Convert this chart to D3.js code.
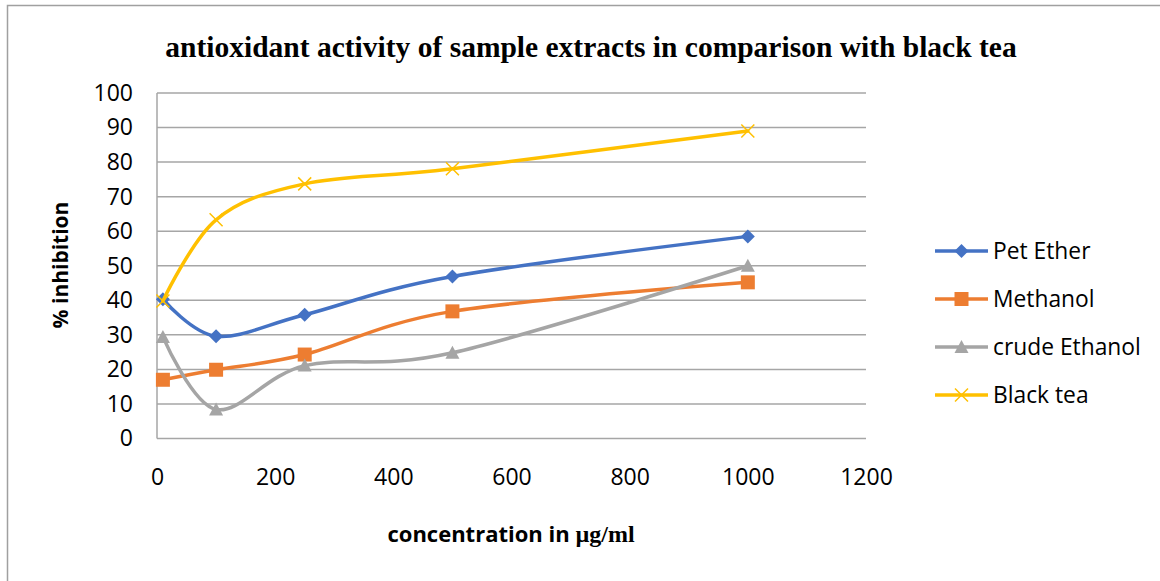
<!DOCTYPE html>
<html>
<head>
<meta charset="utf-8">
<script src="https://cdnjs.cloudflare.com/ajax/libs/d3/7.8.5/d3.min.js"></script>
<style>
  body { margin: 0; background: #fff; }
  .tick text { font-family: "Open Sans", sans-serif; font-size: 23px; fill: #000; }
  .grid line { stroke: #a6a6a6; stroke-width: 1.5; }
</style>
</head>
<body>
<script>
// chart data
var concentrations = [10, 100, 250, 500, 1000];
var petEther     = [40.3, 29.6, 35.8, 46.9, 58.5];
var methanol     = [17.0, 19.9, 24.3, 36.8, 45.2];
var crudeEthanol = [29.4, 8.4, 21.1, 24.8, 50.0];
var blackTea     = [39.8, 63.3, 73.7, 78.1, 89.0];
var seriesNames  = ["Pet Ether", "Methanol", "crude Ethanol", "Black tea"];
var xTicks = [0, 200, 400, 600, 800, 1000, 1200];
var yTicks = [0, 10, 20, 30, 40, 50, 60, 70, 80, 90, 100];

var series = [
  {name: seriesNames[0], values: petEther,     color: "#4472C4", marker: "diamond"},
  {name: seriesNames[1], values: methanol,     color: "#ED7D31", marker: "square"},
  {name: seriesNames[2], values: crudeEthanol, color: "#A5A5A5", marker: "triangle"},
  {name: seriesNames[3], values: blackTea,     color: "#FFC000", marker: "cross"}
];

var W = 1160, H = 581;
var margin = {top: 93, left: 157, right: 294, bottom: 142.5};
var w = W - margin.left - margin.right,
    h = H - margin.top - margin.bottom;

var svg = d3.select("body").append("svg")
    .attr("width", W).attr("height", H);

// outer chart border
svg.append("rect")
    .attr("x", 7.5).attr("y", 5.5)
    .attr("width", 1170).attr("height", 600)
    .attr("fill", "none").attr("stroke", "#a0a0a0").attr("stroke-width", 1.5);

var g = svg.append("g")
    .attr("transform", "translate(" + margin.left + "," + margin.top + ")");

var xScale = d3.scaleLinear().domain([0, 1200]).range([0, w]);
var yScale = d3.scaleLinear().domain([0, 100]).range([h, 0]);

// gridlines
g.append("g").attr("class", "grid")
  .selectAll("line").data(yTicks).enter().append("line")
    .attr("x1", 0).attr("x2", w)
    .attr("y1", function(d) { return yScale(d); })
    .attr("y2", function(d) { return yScale(d); });

g.append("line")
    .attr("x1", 0).attr("x2", 0).attr("y1", 0).attr("y2", h)
    .attr("stroke", "#a6a6a6").attr("stroke-width", 1.5);

// axes (labels only)
var yAxis = d3.axisLeft(yScale).tickValues(yTicks).tickSize(0).tickPadding(24);
var xAxis = d3.axisBottom(xScale).tickValues(xTicks).tickSize(0).tickPadding(30)
    .tickFormat(d3.format("d"));

g.append("g").call(yAxis).call(function(s) { s.select(".domain").remove(); });
g.append("g").attr("transform", "translate(0," + h + ")")
    .call(xAxis).call(function(s) { s.select(".domain").remove(); });

// markers
function markerPath(type) {
  if (type == "diamond") return "M0,-7L7,0L0,7L-7,0Z";
  if (type == "square") return "M-7,-7H7V7H-7Z";
  if (type == "triangle") return "M0,-7L7,6H-7Z";
  return "M-6.5,-6.5L6.5,6.5M-6.5,6.5L6.5,-6.5";
}
function drawMarker(sel, s) {
  sel.attr("d", markerPath(s.marker))
    .attr("fill", s.marker == "cross" ? "none" : s.color)
    .attr("stroke", s.color)
    .attr("stroke-width", s.marker == "cross" ? 1.5 : 0);
}

var line = d3.line()
    .x(function(d, i) { return xScale(concentrations[i]); })
    .y(function(d) { return yScale(d); })
    .curve(d3.curveCardinal.tension(0));

series.forEach(function(s) {
  g.append("path")
      .attr("d", line(s.values))
      .attr("fill", "none")
      .attr("stroke", s.color)
      .attr("stroke-width", 3.5)
      .attr("stroke-linecap", "round");
  g.selectAll(null).data(s.values).enter().append("path")
      .attr("transform", function(d, i) {
        return "translate(" + xScale(concentrations[i]) + "," + yScale(d) + ")";
      })
      .call(drawMarker, s);
});

// legend
var legend = svg.append("g").attr("transform", "translate(935,251)");
series.forEach(function(s, i) {
  var row = legend.append("g").attr("transform", "translate(0," + (i * 48) + ")");
  row.append("line").attr("x1", 0).attr("x2", 53)
      .attr("stroke", s.color).attr("stroke-width", 3.5);
  row.append("path").attr("transform", "translate(26.5,0)").call(drawMarker, s);
  row.append("text").attr("x", 58).attr("y", 8)
      .style("font-family", "'Open Sans', sans-serif").style("font-size", "22.8px")
      .text(s.name);
});

// title
svg.append("text")
    .attr("x", 591).attr("y", 57)
    .attr("text-anchor", "middle")
    .style("font-family", "'Liberation Serif', serif")
    .style("font-weight", "bold").style("font-size", "29.5px")
    .text("antioxidant activity of sample extracts in comparison with black tea");

// axis titles
svg.append("text")
    .attr("transform", "translate(68,265) rotate(-90)")
    .attr("text-anchor", "middle")
    .style("font-family", "'Open Sans', sans-serif")
    .style("font-weight", "bold").style("font-size", "21px")
    .text("% inhibition");

var xt = svg.append("text")
    .attr("x", 511).attr("y", 542)
    .attr("text-anchor", "middle")
    .style("font-family", "'Open Sans', sans-serif")
    .style("font-weight", "bold").style("font-size", "22px");
xt.append("tspan").text("concentration in ");
xt.append("tspan").style("font-family", "'Liberation Serif', serif")
    .style("font-size", "24px").text("µg/ml");
</script>
</body>
</html>
